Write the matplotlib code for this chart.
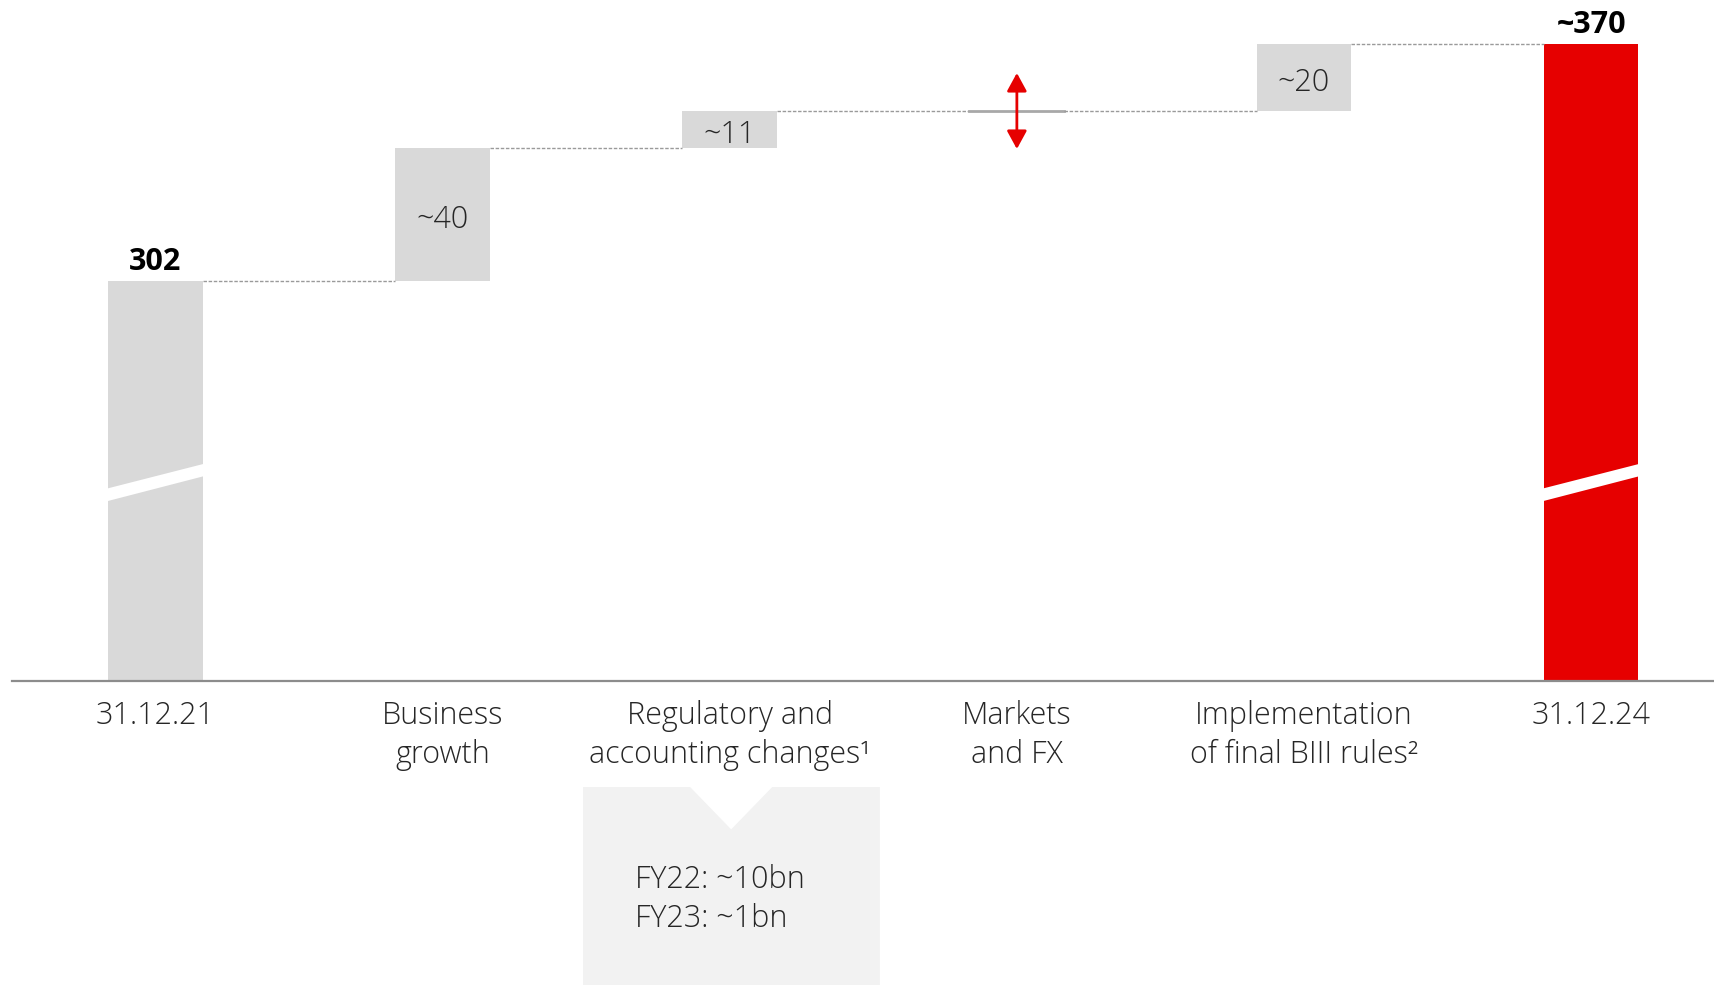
"""RWA bridge 31.12.21 -> 31.12.24 as a broken-axis waterfall."""
import matplotlib
matplotlib.use("Agg")
import matplotlib.pyplot as plt
from matplotlib.patches import Polygon
from matplotlib.transforms import blended_transform_factory

plt.rcParams["font.family"] = ["Open Sans", "DejaVu Sans"]
plt.rcParams["font.weight"] = "light"

categories = ["31.12.21", "Business\ngrowth", "Regulatory and\naccounting changes\u00b9",
              "Markets\nand FX", "Implementation\nof final BIII rules\u00b2", "31.12.24"]
start_value = 302
deltas = [40, 11, 0, 20]                  # Markets and FX: no point estimate
delta_labels = ["~40", "~11", None, "~20"]
start_label = "302"
end_label = "~370"
markets_range = 11.4                      # +/- uncertainty shown by the red arrow
callout_lines = ["FY22: ~10bn", "FY23: ~1bn"]
axis_floor = 182                          # broken axis: bars start here

GREY, RED, TXT = "#d9d9d9", "#e60000", "#262626"
W = 0.33
DASH = dict(color="#9a9a9a", lw=1.0, ls=(0, (2.5, 1.2)))


def main() -> None:
    fig = plt.figure(figsize=(17.14, 9.85), dpi=100)
    ax = fig.add_axes([0, 0.3086, 1, 0.6914])
    ax.set_xlim(-0.5416, 5.428)
    ax.set_ylim(axis_floor, axis_floor + 204.3)
    for s in ax.spines.values():
        s.set_visible(False)
    ax.tick_params(axis="both", length=0)
    ax.set_yticks([])

    end_value = start_value + sum(deltas)
    n = len(categories)

    # totals
    ax.bar(0, start_value - axis_floor, W, bottom=axis_floor, color=GREY)
    ax.bar(n - 1, end_value - axis_floor, W, bottom=axis_floor, color=RED)
    ax.text(0, start_value + 1.2, start_label, ha="center", va="bottom",
            fontsize=22, fontweight="bold", color="black")
    ax.text(n - 1, end_value + 1.2, end_label, ha="center", va="bottom",
            fontsize=22, fontweight="bold", color="black")

    # axis break marks on the totals
    for x in (0, n - 1):
        l, r = x - W / 2 - 0.01, x + W / 2 + 0.01
        ax.add_patch(Polygon([(l, 235.8), (r, 243.6), (r, 247.3), (l, 239.6)],
                             closed=True, color="white", zorder=3, lw=0))

    # steps
    level = start_value
    for i, (d, lab) in enumerate(zip(deltas, delta_labels), start=1):
        prev_right = i - 1 + W / 2
        ax.plot([prev_right, i - W / 2], [level, level], **DASH)
        if d > 0:
            ax.bar(i, d, W, bottom=level, color=GREY)
            ax.text(i, level + d / 2 - 1.6, lab, ha="center", va="center",
                    fontsize=22, color=TXT)
            level += d
        else:
            ax.plot([i - W / 2, i + W / 2], [level, level], color="#a8a8a8", lw=2)
            ax.annotate("", xy=(i, level + markets_range), xytext=(i, level - markets_range),
                        arrowprops=dict(arrowstyle="<|-|>,head_length=0.55,head_width=0.3",
                                        color=RED, lw=2, mutation_scale=20,
                                        shrinkA=0, shrinkB=0), zorder=4)
    ax.plot([n - 2 + W / 2, n - 1 - W / 2], [level, level], **DASH)

    # baseline
    ax.plot([-0.5, 5.428], [axis_floor, axis_floor], color="#8c8c8c", lw=1.6,
            clip_on=False, zorder=5)

    ax.set_xticks(range(n))
    ax.set_xticklabels(categories, fontsize=22, color=TXT, linespacing=1.29)
    ax.tick_params(axis="x", pad=14)

    # callout under "Regulatory and accounting changes"
    tr = blended_transform_factory(ax.transData, fig.transFigure)
    top, apex = 0.201, 0.158
    cx = 2.005
    box = Polygon([(1.489, top), (cx - 0.143, top), (cx, apex), (cx + 0.143, top),
                   (2.523, top), (2.523, 0), (1.489, 0)], closed=True,
                  transform=tr, color="#f2f2f2", lw=0, clip_on=False)
    fig.patches.append(box)
    fig.text(1.670, 0.0871, "\n".join(callout_lines), transform=tr, ha="left",
             va="center", fontsize=22, color=TXT, linespacing=1.29)

    fig.savefig("out.png", dpi=100)
    plt.close(fig)


if __name__ == "__main__":
    main()
